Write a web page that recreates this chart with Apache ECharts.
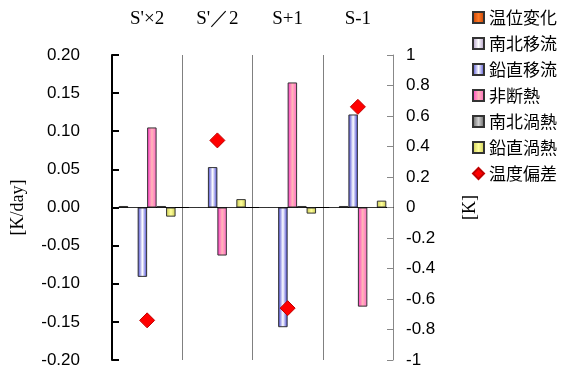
<!DOCTYPE html>
<html>
<head>
<meta charset="utf-8">
<script src="https://cdn.jsdelivr.net/npm/echarts@6/dist/echarts.min.js"></script>
<style>
  html, body { margin: 0; padding: 0; background: #fff; }
  #chart { width: 564px; height: 370px; }
</style>
</head>
<body>
<div id="chart"></div>
<script>
var chart = echarts.init(document.getElementById("chart"));

// data
var categories = ["S'×2", "S'／2", "S+1", "S-1"];
var potTemp    = [0.002, 0, 0, 0];            // 温位変化
var merAdv     = [0, 0, 0, 0.002];            // 南北移流
var vertAdv    = [-0.091, 0.053, -0.157, 0.122]; // 鉛直移流
var diabatic   = [0.105, -0.063, 0.164, -0.130]; // 非断熱
var merEddy    = [0.002, 0, 0.002, 0];        // 南北渦熱
var vertEddy   = [-0.012, 0.011, -0.008, 0.009]; // 鉛直渦熱
var tempDev    = [-0.74, 0.44, -0.66, 0.66];  // 温度偏差 (right axis)

function grad(edge, mid, edge2) {
  return new echarts.graphic.LinearGradient(0, 0, 1, 0, [
    { offset: 0, color: edge },
    { offset: 0.5, color: mid },
    { offset: 1, color: edge2 || edge }
  ]);
}

function barSeries(name, data, color) {
  return {
    name: name,
    type: "bar",
    data: data,
    barGap: 0,
    barCategoryGap: "19%",
    itemStyle: { color: color, borderColor: "#333", borderWidth: 1 }
  };
}

var serif = "Liberation Serif, Times New Roman, serif";
var sans = "Liberation Sans, Arial, sans-serif";
var cjk = "Noto Sans CJK JP, sans-serif";

var option = {
  animation: false,
  grid: { left: 112, right: 171, top: 55, bottom: 10 },
  legend: {
    orient: "vertical",
    left: 467,
    top: 4,
    itemWidth: 11,
    itemHeight: 11,
    itemGap: 9,
    icon: "rect",
    textStyle: { fontFamily: cjk, fontSize: 17, color: "#000" },
    data: [
      { name: "温位変化" }, { name: "南北移流" }, { name: "鉛直移流" },
      { name: "非断熱" }, { name: "南北渦熱" }, { name: "鉛直渦熱" },
      { name: "温度偏差", icon: "diamond" }
    ]
  },
  xAxis: [
    {
      type: "category",
      data: categories,
      position: "top",
      axisLine: { show: false },
      axisTick: { show: false },
      axisLabel: { margin: 26, fontFamily: serif, fontSize: 19, color: "#000" },
      splitLine: { show: true, lineStyle: { color: "#808080", width: 1 } }
    },
    {
      type: "category",
      data: categories,
      position: "bottom",
      axisLine: { onZero: true, lineStyle: { color: "#000", width: 1 } },
      axisTick: { show: false },
      axisLabel: { show: false }
    }
  ],
  yAxis: [
    {
      type: "value",
      min: -0.2,
      max: 0.2,
      interval: 0.05,
      name: "[K/day]",
      nameLocation: "middle",
      nameRotate: 90,
      nameGap: 85,
      nameTextStyle: { fontFamily: serif, fontSize: 18, color: "#000" },
      axisLine: { show: true, lineStyle: { color: "#000", width: 2 } },
      axisTick: { show: true, inside: true, length: 7, lineStyle: { color: "#000", width: 2 } },
      axisLabel: {
        margin: 32, fontFamily: sans, fontSize: 17, color: "#000",
        formatter: function (v) { return v.toFixed(2); }
      },
      splitLine: { show: false }
    },
    {
      type: "value",
      min: -1,
      max: 1,
      interval: 0.2,
      position: "right",
      name: "[K]",
      nameLocation: "middle",
      nameRotate: 90,
      nameGap: 68,
      nameTextStyle: { fontFamily: serif, fontSize: 18, color: "#000" },
      axisLine: { show: true, lineStyle: { color: "#888", width: 1 } },
      axisTick: { show: true, inside: true, length: 6, lineStyle: { color: "#888", width: 1 } },
      axisLabel: {
        margin: 13, fontFamily: sans, fontSize: 17, color: "#000",
        formatter: function (v) { return String(parseFloat(v.toFixed(1))); }
      },
      splitLine: { show: false }
    }
  ],
  series: [
    barSeries("温位変化", potTemp, grad("#c03c00", "#ff7a26")),
    barSeries("南北移流", merAdv, grad("#a890c0", "#ffffff")),
    barSeries("鉛直移流", vertAdv, grad("#3a3ad0", "#ffffff")),
    barSeries("非断熱", diabatic, grad("#ff30c8", "#ffb8b8", "#ff60c8")),
    barSeries("南北渦熱", merEddy, grad("#5a5a5a", "#d0d0d0")),
    barSeries("鉛直渦熱", vertEddy, grad("#c8c850", "#ffff9a")),
    {
      name: "温度偏差",
      type: "scatter",
      yAxisIndex: 1,
      data: tempDev,
      symbol: "diamond",
      symbolSize: 15,
      itemStyle: { color: "#ff0000", borderColor: "#c00000", borderWidth: 1, opacity: 1 },
      z: 5
    }
  ]
};

chart.setOption(option);
</script>
</body>
</html>
